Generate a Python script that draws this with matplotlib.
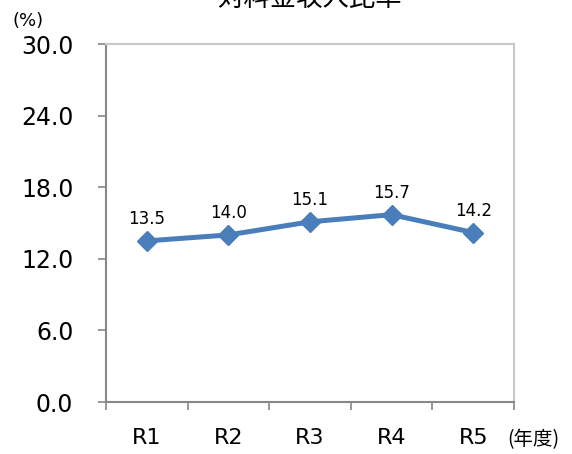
import matplotlib.pyplot as plt

years = ['R1', 'R2', 'R3', 'R4', 'R5']
ratio = [13.5, 14.0, 15.1, 15.7, 14.2]
yticks = [0.0, 6.0, 12.0, 18.0, 24.0, 30.0]

plt.rcParams['font.family'] = ['DejaVu Sans', 'Noto Sans CJK JP']

fig = plt.figure(figsize=(5.72, 4.54), dpi=100)
ax = fig.add_axes([106 / 572, 1 - 402 / 454, 408 / 572, 358 / 454])

x = list(range(len(years)))
ax.plot(x, ratio, color='#4A7EBB', linewidth=3.6, marker='D', markersize=10,
        markeredgecolor='#4A7EBB', markerfacecolor='#4A7EBB', zorder=3)
for xi, v in zip(x, ratio):
    ax.annotate(f'{v:.1f}', (xi, v), xytext=(0, 9), textcoords='offset points',
                ha='center', va='bottom', fontsize=12)

ax.set_xlim(-0.5, len(years) - 0.5)
ax.set_ylim(0, 30)
ax.set_yticks(yticks)
ax.set_yticklabels([f'{t:.1f}' for t in yticks], fontsize=17)
ax.set_xticks([i - 0.5 for i in range(len(years) + 1)])
ax.set_xticklabels([])
ax.set_xticks(x, minor=True)
ax.set_xticklabels(years, minor=True, fontsize=16)
ax.tick_params(axis='x', which='minor', length=0, pad=19)
ax.tick_params(axis='x', which='major', length=6, width=1.2, color='#888888', direction='out')
ax.tick_params(axis='y', length=6, width=1.2, color='#888888', direction='out', pad=17.5)

for side in ['left', 'bottom']:
    ax.spines[side].set_color('#888888')
    ax.spines[side].set_linewidth(1.5)
for side in ['top', 'right']:
    ax.spines[side].set_color('#C8C8C8')
    ax.spines[side].set_linewidth(1.5)

fig.text(13 / 572, 1 - 30 / 454, '(%)', fontsize=13, va='bottom', ha='left')
fig.text(507 / 572, 1 - 440 / 454, '(年度)', fontsize=14, va='center', ha='left',
         family=['Noto Sans CJK JP', 'DejaVu Sans'])
fig.text(309 / 572, 1 - 12 / 454, '対料金収入比率', fontsize=19, ha='center', va='bottom',
         family=['Noto Sans CJK JP', 'DejaVu Sans'])

fig.savefig('out.png', dpi=100)
